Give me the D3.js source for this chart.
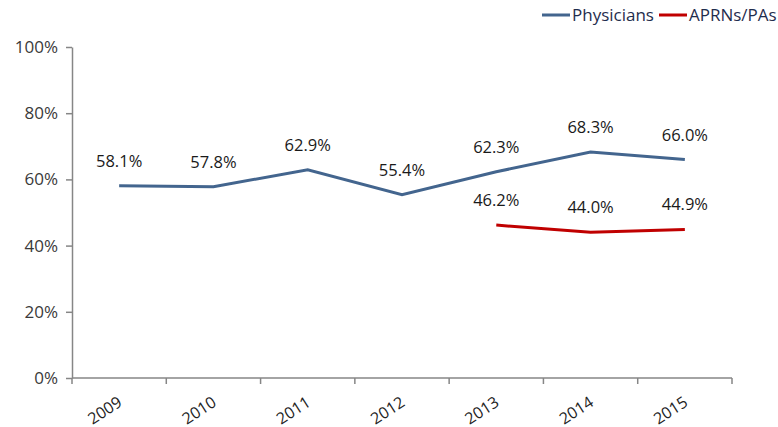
<!DOCTYPE html>
<html>
<head>
<meta charset="utf-8">
<script src="https://cdn.jsdelivr.net/npm/d3@7"></script>
<style>
  body { margin: 0; background: #fff; overflow: hidden; }
  svg { display: block; }
  svg text { font-family: "Open Sans", "DejaVu Sans", sans-serif; }
</style>
</head>
<body>
<svg id="chart"></svg>
<script>
const years = ["2009", "2010", "2011", "2012", "2013", "2014", "2015"];
const physicians = [58.1, 57.8, 62.9, 55.4, 62.3, 68.3, 66.0];
const aprns = [null, null, null, null, 46.2, 44.0, 44.9];
const yTicks = [0, 20, 40, 60, 80, 100];

const seriesNames = ["Physicians", "APRNs/PAs"];
const seriesColors = ["#43658E", "#C00000"];

const config = {
  width: 778, height: 427,
  margin: {top: 47, right: 46, bottom: 49, left: 72}
};

const width = config.width - config.margin.left - config.margin.right;
const height = config.height - config.margin.top - config.margin.bottom;

const svg = d3.select('#chart')
  .attr('width', config.width)
  .attr('height', config.height);

const chart = svg.append('g')
  .attr('transform', `translate(${config.margin.left},${config.margin.top})`);

const xScale = d3.scaleBand()
  .domain(years)
  .range([0, width]);

const yScale = d3.scaleLinear()
  .domain([0, 100])
  .range([height, 0]);

// y axis
const yAxis = d3.axisLeft(yScale)
  .tickValues(yTicks)
  .tickSize(6)
  .tickSizeOuter(0)
  .tickPadding(8)
  .tickFormat(d => d + '%');

const yAxisGroup = chart.append('g').call(yAxis);

// x axis: ticks on band edges
const xAxisGroup = chart.append('g')
  .attr('transform', `translate(0,${height})`);

xAxisGroup.append('line')
  .attr('x1', 0).attr('x2', width)
  .attr('y1', 0).attr('y2', 0);

const edges = years.map(y => xScale(y)).concat([width]);
xAxisGroup.selectAll('.edge')
  .data(edges)
  .join('line')
  .attr('class', 'edge')
  .attr('x1', d => d).attr('x2', d => d)
  .attr('y1', 0).attr('y2', 6);

xAxisGroup.selectAll('.yr')
  .data(years)
  .join('text')
  .attr('class', 'yr')
  .attr('text-anchor', 'end')
  .attr('transform', d => `translate(${xScale(d) + xScale.bandwidth() / 2 + 4},${27}) rotate(-33)`)
  .text(d => d);

svg.selectAll('.domain, line').attr('stroke', '#868686').attr('stroke-width', 1.5);
yAxisGroup.selectAll('text')
  .attr('fill', '#3a3a3a')
  .style('font-size', '17px');
xAxisGroup.selectAll('text')
  .attr('fill', '#222')
  .style('font-size', '16px');

// lines
const line = d3.line()
  .defined(d => d != null)
  .x((d, i) => xScale(years[i]) + xScale.bandwidth() / 2)
  .y(d => yScale(d));

[physicians, aprns].forEach((vals, s) => {
  chart.append('path')
    .datum(vals)
    .attr('fill', 'none')
    .attr('stroke', seriesColors[s])
    .attr('stroke-width', 3)
    .attr('d', line);

  chart.selectAll('.lbl' + s)
    .data(vals.map((v, i) => ({v, i})).filter(d => d.v != null))
    .join('text')
    .attr('x', d => xScale(years[d.i]) + xScale.bandwidth() / 2)
    .attr('y', d => yScale(d.v) - 19)
    .attr('text-anchor', 'middle')
    .attr('fill', '#1a1a1a')
    .style('font-size', '16.5px')
    .text(d => d.v.toFixed(1) + '%');
});

// legend
const legend = svg.append('g').attr('transform', 'translate(542,15)');
let lx = 0;
seriesNames.forEach((name, s) => {
  legend.append('line')
    .attr('x1', lx).attr('x2', lx + 28)
    .attr('y1', 0).attr('y2', 0)
    .attr('stroke', seriesColors[s])
    .attr('stroke-width', 3);
  const t = legend.append('text')
    .attr('x', lx + 30)
    .attr('y', 6)
    .attr('fill', '#1F2D4D')
    .style('font-size', '17px')
    .text(name);
  lx += 30 + t.node().getComputedTextLength() + 5;
});
</script>
</body>
</html>
